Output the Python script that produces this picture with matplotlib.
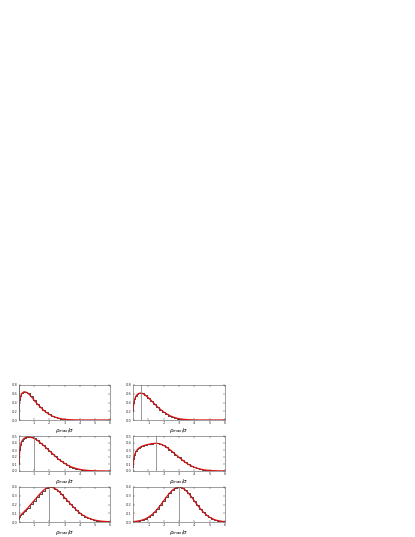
import matplotlib
matplotlib.use("Agg")
import matplotlib.pyplot as plt
import numpy as np

X = [0, 0.05, 0.1, 0.2, 0.3, 0.4, 0.5, 0.6, 0.8, 1.0, 1.2, 1.4, 1.6, 1.8, 2.0,
     2.2, 2.4, 2.6, 2.8, 3.0, 3.2, 3.4, 3.6, 3.8, 4.0, 4.2, 4.4, 4.6, 4.8, 5.0,
     5.2, 5.4, 5.6, 5.8, 6.0]

p1 = [0.23, 0.45, 0.54, 0.61, 0.64, 0.645, 0.63, 0.61, 0.54, 0.45, 0.37, 0.30, 0.23, 0.175, 0.13,
      0.09, 0.063, 0.042, 0.027, 0.017, 0.01, 0.006, 0.004, 0.002, 0.001, 0, 0, 0, 0, 0,
      0, 0, 0, 0, 0]
p2 = [0.2, 0.38, 0.47, 0.55, 0.59, 0.61, 0.615, 0.61, 0.57, 0.51, 0.44, 0.37, 0.30, 0.24, 0.185,
      0.14, 0.10, 0.07, 0.047, 0.03, 0.019, 0.012, 0.007, 0.004, 0.002, 0.001, 0, 0, 0, 0,
      0, 0, 0, 0, 0]
p3 = [0.1, 0.3, 0.37, 0.43, 0.46, 0.475, 0.485, 0.488, 0.482, 0.465, 0.44, 0.405, 0.37, 0.33, 0.29,
      0.25, 0.21, 0.17, 0.14, 0.11, 0.085, 0.063, 0.047, 0.034, 0.024, 0.016, 0.011, 0.007, 0.005, 0.003,
      0.002, 0.001, 0.001, 0, 0]
p4 = [0.06, 0.17, 0.23, 0.28, 0.31, 0.33, 0.345, 0.355, 0.37, 0.38, 0.39, 0.395, 0.395, 0.385, 0.365,
      0.34, 0.305, 0.27, 0.23, 0.195, 0.16, 0.125, 0.097, 0.073, 0.053, 0.038, 0.027, 0.018, 0.012, 0.008,
      0.005, 0.003, 0.002, 0.001, 0.001]
p5 = [0.03, 0.06, 0.075, 0.095, 0.11, 0.13, 0.145, 0.165, 0.205, 0.245, 0.285, 0.325, 0.36, 0.385, 0.398,
      0.395, 0.38, 0.355, 0.32, 0.28, 0.245, 0.205, 0.17, 0.135, 0.105, 0.08, 0.06, 0.044, 0.032, 0.022,
      0.015, 0.01, 0.007, 0.005, 0.003]
p6 = [0.004, 0.005, 0.006, 0.008, 0.011, 0.014, 0.018, 0.022, 0.036, 0.054, 0.079, 0.111, 0.15, 0.194, 0.242,
      0.29, 0.333, 0.368, 0.391, 0.399, 0.391, 0.368, 0.333, 0.29, 0.242, 0.194, 0.15, 0.111, 0.079, 0.054,
      0.036, 0.022, 0.014, 0.008, 0.004]

series = [p1, p2, p3, p4, p5, p6]
NU = [0, 0.5, 1, 1.5, 2, 3]
YMAX = [0.8, 0.8, 0.5, 0.5, 0.4, 0.4]
YSTEP = [0.2, 0.2, 0.1, 0.1, 0.1, 0.1]
XTICKS = [1, 2, 3, 4, 5, 6]

W, H = 415, 537
fig = plt.figure(figsize=(W / 100, H / 100), dpi=100)

cols = [(19, 110), (133, 225)]
rows = [(385, 420), (436, 471), (487, 522)]

for i, vals in enumerate(series):
    r, c = divmod(i, 2)
    l, rgt = cols[c]
    t, b = rows[r]
    ax = fig.add_axes([l / W, 1 - b / H, (rgt - l) / W, (b - t) / H])
    ax.plot(X, vals, drawstyle="steps-mid", color="black", lw=0.5)
    ax.plot(X, vals, color="#dd1111", lw=0.9)
    ax.axvline(NU[i], color="#888888", lw=0.6)
    ax.set_xlim(0, 6)
    ax.set_ylim(0, YMAX[i])
    ax.set_xticks(XTICKS)
    ax.set_xticklabels([str(v) for v in XTICKS])
    yt = np.arange(0, YMAX[i] + 1e-9, YSTEP[i])
    ax.set_yticks(yt)
    ax.set_yticklabels(["%.1f" % v for v in yt])
    ax.tick_params(direction="in", length=1.2, width=0.3, labelsize=2.6,
                   pad=1, top=True, right=True, colors="#333333")
    for s in ax.spines.values():
        s.set_linewidth(0.4)
        s.set_color("#555555")
    ax.set_xlabel(r"$\rho_{max}/\sigma$", fontsize=4, labelpad=0.5)

fig.savefig("out.png", dpi=100)
